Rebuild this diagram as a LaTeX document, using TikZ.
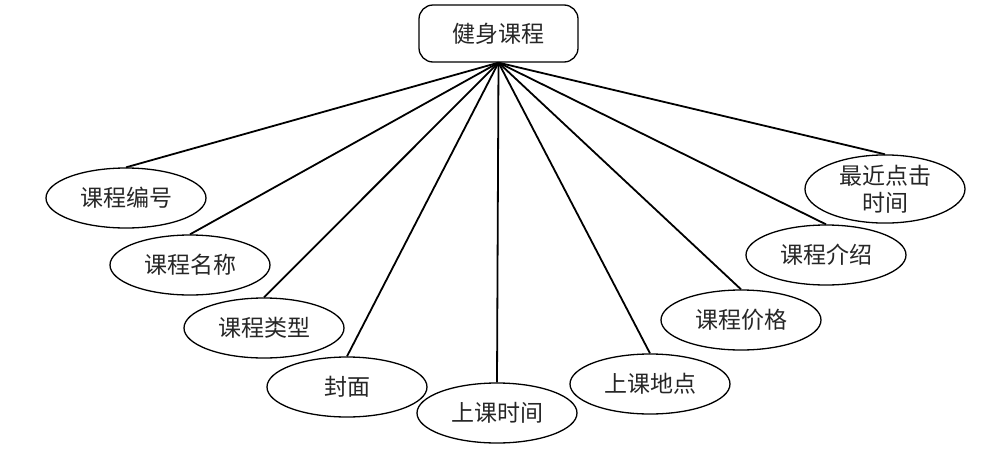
\documentclass[tikz,border=0pt]{standalone}
\usepackage{fontspec}
\newfontfamily\cjk{Noto Sans CJK SC}
\usetikzlibrary{shapes.geometric}
\begin{document}
\begin{tikzpicture}[x=1pt,y=-1pt,
  attr/.style={ellipse, draw, line width=1.3pt, minimum width=160pt, minimum height=60pt, inner sep=0pt, text=black!85, font=\cjk\fontsize{23}{27}\selectfont, align=center},
  ent/.style={rectangle, rounded corners=14pt, draw, line width=1.3pt, minimum width=159pt, minimum height=57pt, inner sep=0pt, text=black!85, font=\cjk\fontsize{23}{27}\selectfont},
  conn/.style={line width=1.8pt}]
\useasboundingbox (0,0) rectangle (989,461);
\node[ent] (top) at (498.5,33.5) {健身课程};
\node[attr] (a1) at (126,198) {课程编号};
\node[attr] (a2) at (190,265) {课程名称};
\node[attr] (a3) at (264,328) {课程类型};
\node[attr] (a4) at (347,387) {封面};
\node[attr] (a5) at (497,413) {上课时间};
\node[attr] (a6) at (650,384) {上课地点};
\node[attr] (a7) at (741,320) {课程价格};
\node[attr] (a8) at (826,255) {课程介绍};
\node[attr, minimum height=66pt] (a9) at (885,189) {最近点击\\时间};
\foreach \n in {a1,a2,a3,a4,a5,a6,a7,a8,a9}
  \draw[conn] (top.south) -- (\n.north);
\end{tikzpicture}
\end{document}
